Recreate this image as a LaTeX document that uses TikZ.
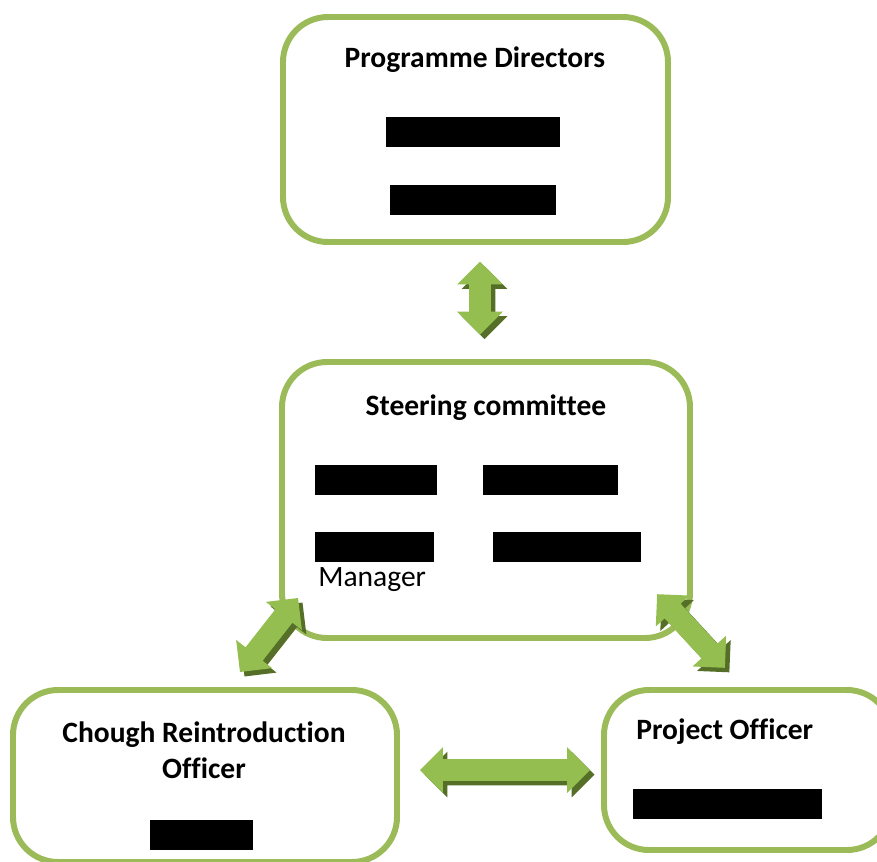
\documentclass[tikz,border=0pt]{standalone}
\usepackage{fontspec}
\setmainfont[Ligatures=NoCommon]{Carlito}
\usetikzlibrary{shapes.arrows}

\definecolor{boxgreen}{HTML}{9BBB59}
\definecolor{arrowgreen}{HTML}{94BF50}
\definecolor{arrowlight}{HTML}{C2DF92}
\definecolor{arrowshade}{HTML}{556F28}

\begin{document}
\begin{tikzpicture}[
    box/.style={draw=boxgreen, line width=3.4pt, rounded corners=0.9cm, fill=white},
    title/.style={font=\fontsize{16.8}{20.5}\selectfont\bfseries, align=center, inner sep=0pt},
    label/.style={font=\fontsize{16.8}{20}\selectfont, inner sep=0pt},
    bar/.style={fill=black, inner sep=0pt, minimum height=0.6cm},
    link/.style={double arrow, inner sep=0.21cm, double arrow head extend=0.24cm,
        top color=arrowgreen, middle color=arrowlight, bottom color=arrowgreen,
        preaction={fill=arrowshade, transform canvas={shift={(0.09,-0.09)}}}}
]
    \useasboundingbox (0,0) rectangle (17.54,-17.22);

    % the four bodies
    \node[box, minimum width=7.7cm, minimum height=4.5cm] (pd) at (9.51,-2.59) {};
    \node[box, minimum width=8.16cm, minimum height=5.52cm] (sc) at (9.72,-10.0) {};
    \node[box, minimum width=7.68cm, minimum height=3.44cm] (cro) at (4.1,-15.52) {};
    \node[box, minimum width=5.76cm, minimum height=3.2cm] (po) at (14.96,-15.4) {};

    % headings
    \node[title] (pdt) at (9.5,-1.2) {Programme Directors};
    \node[title] (sct) at (9.72,-8.16) {Steering committee};
    \node[title] (crot) at (4.08,-15.0) {Chough Reintroduction\\Officer};
    \node[title, anchor=west] (pot) at (12.72,-14.64) {Project Officer};

    % names (blacked out)
    \node[bar, minimum width=3.48cm] (pd1) at (9.46,-2.64) {};
    \node[bar, minimum width=3.32cm] (pd2) at (9.46,-4.0) {};
    \node[bar, minimum width=2.44cm] (sc1) at (7.52,-9.6) {};
    \node[bar, minimum width=2.7cm] (sc2) at (11.01,-9.6) {};
    \node[bar, minimum width=2.38cm] (sc3) at (7.49,-10.94) {};
    \node[bar, minimum width=2.96cm] (sc4) at (11.34,-10.94) {};
    \node[label, anchor=west] (mgr) at (6.36,-11.6) {Manager};
    \node[bar, minimum width=2.06cm] (cro1) at (4.03,-16.7) {};
    \node[bar, minimum width=3.78cm] (po1) at (14.55,-16.08) {};

    % two-way links
    \node[link, minimum height=1.46cm, rotate=90] (a1) at (9.6,-5.96) {};
    \node[link, minimum height=1.88cm, rotate=51.9] (a2) at (5.38,-12.7) {};
    \node[link, minimum height=2.0cm, rotate=-47.4] (a3) at (13.82,-12.62) {};
    \node[link, minimum height=3.4cm] (a4) at (10.1,-15.4) {};
\end{tikzpicture}
\end{document}
